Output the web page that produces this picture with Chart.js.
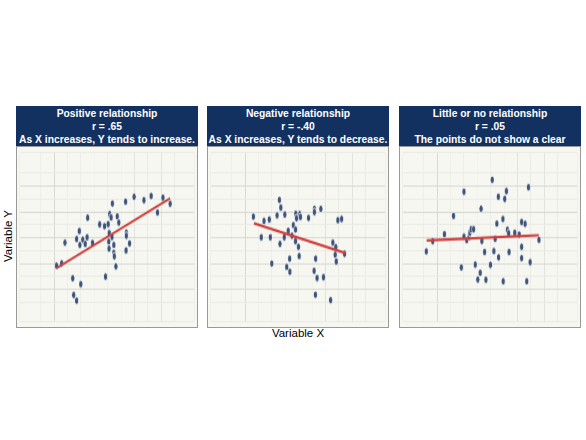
<!DOCTYPE html>
<html><head><meta charset="utf-8">
<script src="https://cdn.jsdelivr.net/npm/chart.js@4"></script>
<style>
body{margin:0;width:586px;height:440px;background:#fff;font-family:"Liberation Sans",Arial,sans-serif;position:relative;overflow:hidden}
.hdr{position:absolute;top:106px;height:40px;background:#133160;color:#fff;font-weight:bold;font-size:10.3px;text-align:center;line-height:13px;padding-top:1px;box-sizing:border-box}
.pn{position:absolute;top:146px;height:182px;border:1px solid #999;box-sizing:border-box;background:#f7f7f2}
.pn canvas{position:absolute;left:0;top:0}
#yl{position:absolute;left:-22px;top:230px;width:60px;text-align:center;transform:rotate(-90deg);font-size:11.5px;color:#000}
#xl{position:absolute;left:248px;top:327px;width:100px;text-align:center;font-size:11.5px}
</style></head><body>
<div id="yl">Variable Y</div><div id="xl">Variable X</div>
<script>
const titles=[["Positive relationship","r = .65","As X increases, Y tends to increase."],
["Negative relationship","r = -.40","As X increases, Y tends to decrease."],
["Little or no relationship","r = .05","The points do not show a clear pattern."]];
const posX=[1.08,1.28,1.40,1.69,1.73,1.84,1.99,1.84,1.94,1.96,2.07,2.16,2.23,2.25,2.43,2.70,2.88,3.02,3.08,3.13,3.18,3.36,3.42,3.06,3.16,3.04,3.23,3.05,3.23,3.25,3.31,2.92,3.67,3.99,4.36,4.63,5.07,5.34,4.87,3.70,3.70,3.82,3.69];
const posY=[1.92,2.01,2.81,1.43,0.78,0.56,1.20,2.95,3.26,2.72,2.93,2.76,3.02,3.78,2.80,3.52,3.45,3.53,3.92,3.79,4.33,3.83,3.59,3.18,3.03,2.85,2.72,2.58,2.42,2.28,1.89,1.49,4.40,4.59,4.46,4.62,4.56,4.32,3.98,3.20,3.08,2.78,2.51];
const negX=[1.30,1.70,1.90,1.60,1.94,1.99,2.19,2.28,2.33,2.48,2.30,2.46,2.61,2.75,2.80,2.88,2.89,2.92,3.04,3.07,2.88,2.99,3.02,2.66,2.55,2.67,3.37,3.59,3.59,3.83,3.64,3.58,3.69,3.93,3.63,4.20,4.28,4.39,4.37,4.41,4.72,4.47,4.61];
const negY=[3.82,3.65,3.71,3.02,3.02,2.00,3.87,4.47,4.17,3.90,2.76,3.02,3.27,3.08,3.49,3.32,3.93,3.76,3.92,3.81,2.87,2.65,2.29,2.19,1.87,1.68,3.77,4.12,4.00,4.12,2.19,1.72,1.44,1.47,0.79,0.58,2.81,2.64,2.34,2.08,2.38,3.68,3.73];
const nulX=[0.59,0.83,1.27,1.61,1.90,2.00,2.00,2.10,2.19,2.22,2.27,2.36,2.42,2.52,2.61,2.64,2.67,2.77,2.82,2.99,3.06,3.12,3.17,3.23,3.29,3.30,3.46,3.47,3.53,3.59,3.63,3.67,3.69,3.90,4.07,4.16,4.29,4.16,4.16,4.35,4.42,4.48,4.81];
const nulY=[2.47,2.87,3.14,3.85,1.85,4.79,3.04,2.91,3.03,3.20,3.33,3.33,1.96,1.38,1.64,4.13,2.88,2.45,1.37,1.95,5.25,2.48,2.96,3.55,4.59,2.24,3.73,1.31,4.51,4.81,3.31,3.18,2.45,3.19,3.12,3.61,3.54,2.65,2.21,1.31,4.96,2.05,2.92];
const fitX=[[1.08,5.34],[1.33,4.75],[0.60,4.81]];
const fitY=[[1.82,4.53],[3.56,2.41],[2.90,3.10]];
const sets=[[posX,posY],[negX,negY],[nulX,nulY]];
const lefts=[16,207,399], W=182;
sets.forEach((s,i)=>{
  const h=document.createElement('div');h.className='hdr';h.style.left=lefts[i]+'px';h.style.width=W+'px';
  h.innerHTML=titles[i].join('<br>');document.body.appendChild(h);
  const p=document.createElement('div');p.className='pn';p.style.left=lefts[i]+'px';p.style.width=W+'px';
  const c=document.createElement('canvas');p.appendChild(c);document.body.appendChild(p);
  const gc=ctx=>{const v=ctx.tick.value;return Math.abs(v-Math.round(v))<1e-6?'#d9d9d4':'#ebebe6';};
  new Chart(c,{data:{datasets:[
    {type:'line',data:fitX[i].map((x,k)=>({x,y:fitY[i][k]})),borderColor:'#d0403e',borderWidth:2.2,pointRadius:0,order:0},
    {type:'scatter',data:s[0].map((x,k)=>({x,y:s[1][k]})),backgroundColor:'#3f557a',borderColor:'#ffffff',borderWidth:0.8,pointRadius:3.2,order:1}
  ]},options:{responsive:false,animation:false,devicePixelRatio:1,maintainAspectRatio:false,
    layout:{padding:0},plugins:{legend:{display:false},tooltip:{enabled:false}},
    scales:{x:{type:'linear',min:-0.29,max:6.24,ticks:{display:false,stepSize:0.5},border:{display:false},grid:{color:gc,drawTicks:false}},
            y:{type:'linear',min:-0.24,max:6.3,ticks:{display:false,stepSize:0.5},border:{display:false},grid:{color:gc,drawTicks:false}}}}});
  c.style.width=(W-2)+'px';c.style.height='180px';
});
</script></body></html>
